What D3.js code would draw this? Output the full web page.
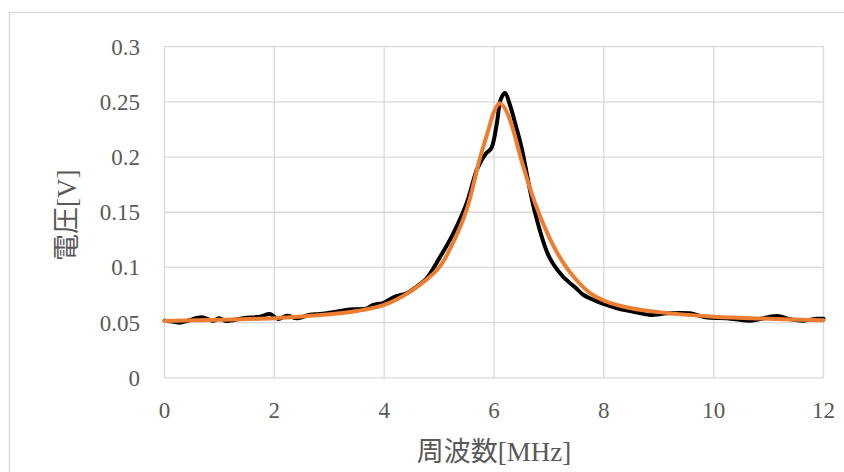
<!DOCTYPE html>
<html>
  <head>
    <meta charset="utf-8">
    <style>
      body { margin: 0; background: #fff; }
    </style>
  </head>
  <body>
    <script src="https://d3js.org/d3.v7.min.js"></script>
    <script>
      // measured response (black)
      var freqMeasured = [0.00, 0.15, 0.28, 0.45, 0.68, 0.88, 1.00, 1.12, 1.43, 1.74,
                          1.92, 2.07, 2.23, 2.41, 2.65, 2.83, 3.13, 3.37, 3.67, 3.80,
                          3.98, 4.17, 4.42, 4.59, 4.77, 5.00, 5.25, 5.50, 5.70, 5.85,
                          5.95, 6.05, 6.12, 6.20, 6.30, 6.40, 6.50, 6.75, 7.00, 7.25,
                          7.50, 7.63, 8.00, 8.24, 8.54, 8.84, 9.15, 9.57, 9.85, 10.24,
                          10.66, 11.15, 11.40, 11.63, 11.87, 12.00];
      var voltMeasured = [0.0517, 0.0510, 0.0500, 0.0522, 0.0548, 0.0517, 0.0539, 0.0515, 0.0540, 0.0554,
                          0.0578, 0.0533, 0.0563, 0.0539, 0.0572, 0.0578, 0.0599, 0.0620, 0.0626, 0.0660,
                          0.0677, 0.0730, 0.0768, 0.0825, 0.0900, 0.1080, 0.1300, 0.1580, 0.1900, 0.2030,
                          0.2080, 0.2300, 0.2520, 0.2580, 0.2456, 0.2280, 0.2090, 0.1490, 0.1100, 0.0920,
                          0.0810, 0.0750, 0.0669, 0.0630, 0.0599, 0.0570, 0.0584, 0.0584, 0.0548, 0.0540,
                          0.0517, 0.0560, 0.0530, 0.0517, 0.0535, 0.0535];

      // fitted curve (orange)
      var freqFit = [0, 1, 2, 2.5, 3, 3.5, 4, 4.5, 5, 5.25, 5.5, 5.75, 5.9, 6.0, 6.1,
                     6.2, 6.35, 6.5, 6.75, 7.0, 7.25, 7.5, 7.75, 8, 8.5, 9, 10, 11, 12];
      var voltFit = [0.0515, 0.0525, 0.0540, 0.0555, 0.0575, 0.0605, 0.0660, 0.0790, 0.1000, 0.1220,
                     0.1520, 0.2000, 0.2250, 0.2410, 0.2487, 0.2440, 0.2245, 0.1970, 0.1580, 0.1280,
                     0.1050, 0.0886, 0.0768, 0.0700, 0.0630, 0.0595, 0.0554, 0.0535, 0.0522];

      var xTicks = [0, 2, 4, 6, 8, 10, 12];
      var yTicks = [0, 0.05, 0.1, 0.15, 0.2, 0.25, 0.3];
      var yTickLabels = ['0', '0.05', '0.1', '0.15', '0.2', '0.25', '0.3'];

      var W = 844, H = 472;
      var plotLeft = 164.5, plotRight = 823.5, plotTop = 46.7, plotBottom = 377.8;
      var serif = '"Liberation Serif", "DejaVu Serif", "Noto Sans CJK JP", serif';

      var svg = d3.select('body').append('svg')
                  .attr('width', W)
                  .attr('height', H);

      // chart area frame
      svg.append('rect')
         .attr('x', 9.5).attr('y', 12.5)
         .attr('width', 860).attr('height', 480)
         .attr('fill', '#fff')
         .attr('stroke', '#d9d9d9')
         .attr('stroke-width', 1.3);

      var x = d3.scaleLinear().domain([0, 12]).range([plotLeft, plotRight]);
      var y = d3.scaleLinear().domain([0, 0.3]).range([plotBottom, plotTop]);

      // grid
      svg.append('g').selectAll('line')
         .data(yTicks).enter().append('line')
         .attr('x1', plotLeft).attr('x2', plotRight)
         .attr('y1', function (d) { return y(d); })
         .attr('y2', function (d) { return y(d); })
         .attr('stroke', '#d9d9d9').attr('stroke-width', 1.3);

      svg.append('g').selectAll('line')
         .data(xTicks).enter().append('line')
         .attr('y1', plotTop).attr('y2', plotBottom)
         .attr('x1', function (d) { return x(d); })
         .attr('x2', function (d) { return x(d); })
         .attr('stroke', '#d9d9d9').attr('stroke-width', 1.3);

      // tick labels
      svg.append('g').selectAll('text')
         .data(yTicks).enter().append('text')
         .attr('x', 140)
         .attr('y', function (d) { return y(d); })
         .attr('dy', '0.35em')
         .attr('text-anchor', 'end')
         .attr('fill', '#595959')
         .style('font', '23px ' + serif)
         .text(function (d, i) { return yTickLabels[i]; });

      svg.append('g').selectAll('text')
         .data(xTicks).enter().append('text')
         .attr('x', function (d) { return x(d); })
         .attr('y', 418)
         .attr('text-anchor', 'middle')
         .attr('fill', '#595959')
         .style('font', '23px ' + serif)
         .text(function (d) { return d; });

      // axis titles
      svg.append('text')
         .attr('x', (plotLeft + plotRight) / 2)
         .attr('y', 461)
         .attr('text-anchor', 'middle')
         .attr('fill', '#595959')
         .style('font', '27px ' + serif)
         .text('周波数[MHz]');

      svg.append('text')
         .attr('transform', 'translate(76,' + ((plotTop + plotBottom) / 2 + 3) + ') rotate(-90)')
         .attr('text-anchor', 'middle')
         .attr('fill', '#595959')
         .style('font', '27px ' + serif)
         .text('電圧[V]');

      // series
      var line = d3.line()
                   .x(function (d) { return x(d[0]); })
                   .y(function (d) { return y(d[1]); })
                   .curve(d3.curveCatmullRom.alpha(0.5));

      svg.append('path')
         .datum(d3.zip(freqMeasured, voltMeasured))
         .attr('d', line)
         .attr('fill', 'none')
         .attr('stroke', '#000')
         .attr('stroke-width', 4)
         .attr('stroke-linejoin', 'round')
         .attr('stroke-linecap', 'round');

      svg.append('path')
         .datum(d3.zip(freqFit, voltFit))
         .attr('d', line)
         .attr('fill', 'none')
         .attr('stroke', '#ed7d31')
         .attr('stroke-width', 4)
         .attr('stroke-linejoin', 'round')
         .attr('stroke-linecap', 'round');
    </script>
  </body>
</html>
